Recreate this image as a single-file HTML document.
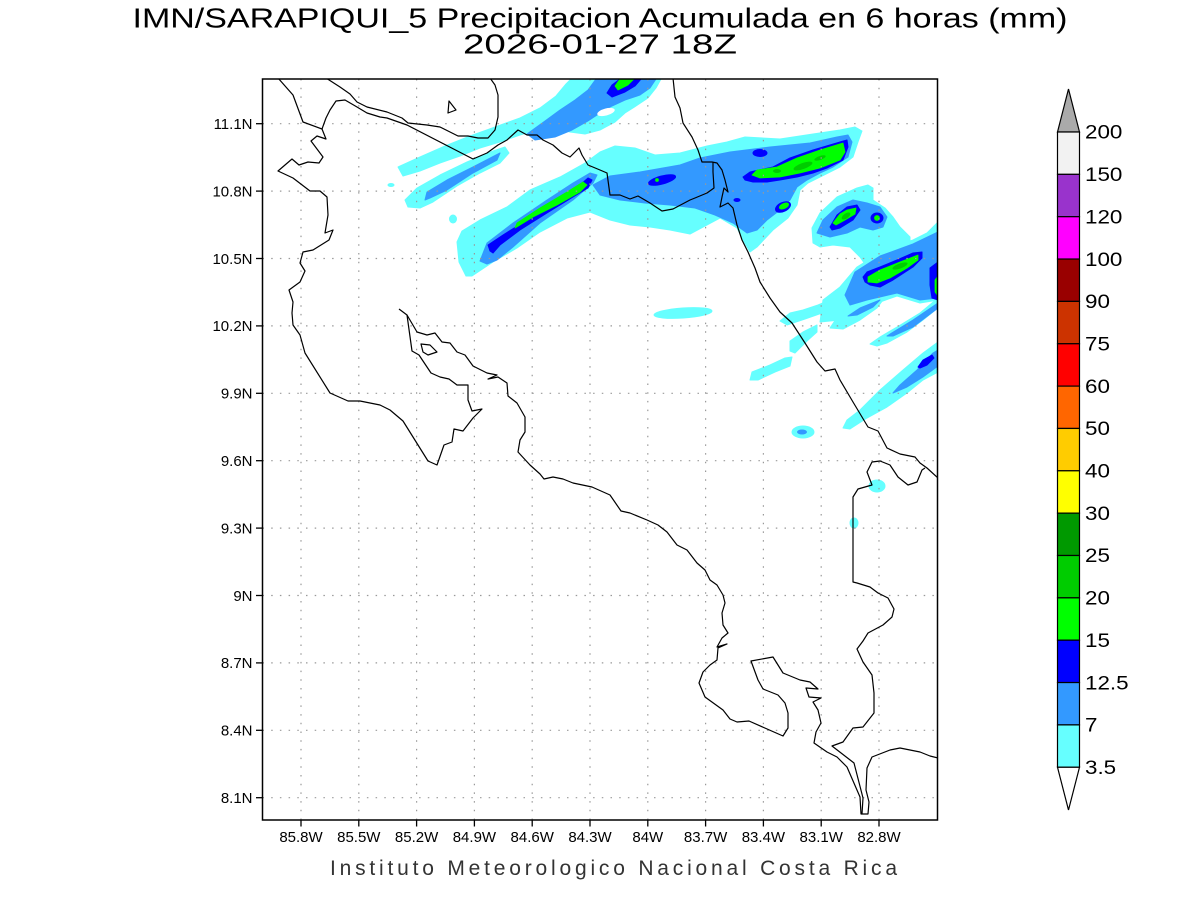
<!DOCTYPE html>
<html><head><meta charset="utf-8"><style>
html,body{margin:0;padding:0;background:#fff;}
svg{display:block;}
text{font-family:"Liberation Sans",sans-serif;}
</style></head><body>
<svg width="1200" height="900" viewBox="0 0 1200 900" xmlns="http://www.w3.org/2000/svg">
<rect width="1200" height="900" fill="#fff"/>
<defs><clipPath id="pa"><rect x="262.5" y="79" width="675" height="741"/></clipPath></defs>

<!-- Titles -->
<text x="600" y="27.5" font-size="28" text-anchor="middle" textLength="935" lengthAdjust="spacingAndGlyphs" fill="#000">IMN/SARAPIQUI_5 Precipitacion Acumulada en 6 horas (mm)</text>
<text x="600" y="53.5" font-size="28" text-anchor="middle" textLength="274" lengthAdjust="spacingAndGlyphs" fill="#000">2026-01-27 18Z</text>
<text x="613.5" y="875" font-size="21" text-anchor="middle" textLength="567" lengthAdjust="spacing" fill="#333">Instituto Meteorologico Nacional Costa Rica</text>

<g clip-path="url(#pa)" stroke-linejoin="round">
<!-- cyan -->
<g fill="#66ffff" stroke="#66ffff" stroke-width="1">
<polygon points="398,167 420,157 445,146 470,136 495,127 520,118 540,108 556,96 566,84 571,79 661,79 656,88 648,98 636,106 625,113 615,122 600,130 585,134 570,132 555,128 540,129 520,135 500,142 480,148 460,156 440,163 420,171 403,176"/>
<polygon points="405,200 417,188 440,175 467,162 493,151 505,147 509,153 500,163 480,173 457,186 433,202 420,208 408,207"/>
<polygon points="466,276 459,262 457,242 462,231 480,220 507,207 530,190 560,177 585,163 600,152 615,146 635,148 655,155 680,153 707,146 727,142 745,137 780,139 813,134 840,130 855,127 862,131 858,142 853,157 840,167 820,177 808,183 800,190 797,205 788,218 773,230 757,247 750,252 743,240 737,228 720,218 705,226 690,234 670,230 650,227 630,225 610,220 590,212 567,218 540,232 517,248 493,262 472,276"/>
<polygon points="813,243 812,228 820,213 837,197 857,188 868,185 873,188 873,200 885,208 893,217 900,227 910,237 910,245 897,247 880,257 867,267 860,257 850,247 833,245 820,247"/>
<polygon points="820,322 823,300 840,287 857,267 873,257 893,247 913,240 927,233 938,222 938,300 920,303 897,296 880,302 860,311 840,320"/>
<polygon points="780,321 790,313 803,310 818,305 830,300 838,303 825,312 805,319 787,325"/>
<polygon points="790,351 790,341 803,332 817,325 817,332 807,341 795,353"/>
<polygon points="750,380 752,372 770,365 785,358 792,357 790,366 775,372 758,380"/>
<polygon points="830,328 840,313 853,305 867,300 883,300 877,308 860,320 843,329"/>
<polygon points="870,344 880,337 897,327 920,313 938,298 938,308 923,320 907,332 887,343 877,346"/>
<polygon points="843,428 847,420 860,410 880,390 903,370 923,353 938,342 938,372 923,380 907,393 887,407 867,418 850,429"/>
<ellipse cx="803" cy="432" rx="11" ry="6"/>
<ellipse cx="877" cy="486" rx="8" ry="6"/>
<ellipse cx="854" cy="523" rx="4" ry="5"/>
<ellipse cx="683" cy="313" rx="29" ry="5" transform="rotate(-4 683 313)"/>
<ellipse cx="453" cy="219" rx="3.5" ry="4"/>
<ellipse cx="391" cy="185" rx="3" ry="1.5"/>
</g>
<!-- light blue -->
<g fill="#3399ff" stroke="#3399ff" stroke-width="1">
<polygon points="527,134 545,121 560,110 575,100 588,90 596,79 656,79 650,88 640,95 625,100 612,106 600,113 588,121 572,130 555,137 535,140"/>
<polygon points="425,200 427,192 447,180 473,167 500,153 497,160 473,173 447,190 430,198"/>
<polygon points="480,261 487,243 513,223 547,200 573,183 590,173 597,175 593,183 573,200 540,223 513,247 497,260 487,264"/>
<polygon points="593,185 610,176 640,172 680,165 700,158 730,152 770,147 810,143 837,137 848,135 852,142 848,157 833,167 820,173 807,180 797,187 790,200 780,210 767,220 757,230 747,233 733,223 715,215 695,208 670,205 645,203 620,200 600,195"/>
<polygon points="817,233 823,220 837,207 853,200 867,203 880,207 887,217 883,227 873,230 860,227 847,233 830,237"/>
<polygon points="845,295 855,272 880,256 913,244 938,232 938,298 920,300 897,293 867,300 850,305"/>
<polygon points="848,316 860,308 880,300 873,307 857,315"/>
<polygon points="887,336 913,320 938,303 938,308 913,327 893,336"/>
<polygon points="893,393 900,385 917,370 933,353 938,350 938,366 923,377 907,387"/>
<ellipse cx="802" cy="432" rx="4.5" ry="2"/>
</g>
<ellipse cx="606" cy="112" rx="9" ry="3.5" transform="rotate(-15 606 112)" fill="#fff"/>
<!-- blue -->
<g fill="#0000ff" stroke="#0000ff" stroke-width="1">
<polygon points="607,93 612,85 620,79 641,79 635,86 625,92 612,97"/>
<polygon points="490,251 488,245 503,235 527,220 557,200 580,185 588,178 592,180 588,188 573,197 547,213 520,230 500,245 493,253"/>
<polygon points="743,177 750,172 773,167 790,158 813,150 840,142 847,140 848,147 843,160 827,168 813,173 797,177 780,180 767,182 753,182 745,180"/>
<ellipse cx="760" cy="153" rx="7" ry="3.5"/>
<ellipse cx="783" cy="207" rx="8" ry="4.5" transform="rotate(-25 783 207)"/>
<polygon points="830,227 837,215 847,207 857,205 860,210 853,220 840,228 832,230"/>
<ellipse cx="877" cy="218" rx="6" ry="5"/>
<polygon points="863,277 867,272 880,267 897,260 913,253 922,252 922,258 913,267 893,280 880,287 870,285 865,282"/>
<polygon points="930,268 938,262 938,300 932,298 930,285"/>
<polygon points="918,367 923,360 932,355 934,358 927,365 920,368"/>
<ellipse cx="662" cy="180" rx="14" ry="4" transform="rotate(-15 662 180)"/>
<ellipse cx="737" cy="200" rx="3" ry="1.5"/>
</g>
<!-- green -->
<g fill="#00ff00" stroke="#00ff00" stroke-width="0.8">
<polygon points="615,86 620,79 634,79 628,85 618,90"/>
<polygon points="515,228 517,223 540,208 567,192 583,182 587,185 580,192 557,205 533,217 520,225"/>
<polygon points="752,175 757,170 777,167 797,158 820,150 843,143 845,152 840,160 820,168 800,173 780,177 760,178"/>
<ellipse cx="784" cy="206" rx="5" ry="2.5" transform="rotate(-25 784 206)"/>
<polygon points="833,223 840,214 847,210 856,208 855,214 845,220 836,225"/>
<circle cx="877" cy="218" r="2.5"/>
<polygon points="868,277 880,270 900,262 918,255 918,260 907,268 890,278 877,283 868,282"/>
<polygon points="935,280 938,276 938,296 935,292"/>
<circle cx="657" cy="180" r="1.5"/>
</g>
<!-- dark green -->
<g fill="#00cc00">
<ellipse cx="803" cy="166" rx="10" ry="3" transform="rotate(-20 803 166)"/>
<ellipse cx="777" cy="171" rx="4" ry="2"/>
<ellipse cx="820" cy="158" rx="6" ry="2" transform="rotate(-20 820 158)"/>
<ellipse cx="846" cy="216" rx="5" ry="2.5" transform="rotate(-35 846 216)"/>
<ellipse cx="900" cy="266" rx="8" ry="2.5" transform="rotate(-20 900 266)"/>
</g>

<!-- grid -->
<g stroke="#999" stroke-width="1.2" stroke-dasharray="1.5 7.2">
<line x1="301" y1="79" x2="301" y2="820"/>
<line x1="358.8" y1="79" x2="358.8" y2="820"/>
<line x1="416.6" y1="79" x2="416.6" y2="820"/>
<line x1="474.4" y1="79" x2="474.4" y2="820"/>
<line x1="532.2" y1="79" x2="532.2" y2="820"/>
<line x1="590" y1="79" x2="590" y2="820"/>
<line x1="647.8" y1="79" x2="647.8" y2="820"/>
<line x1="705.6" y1="79" x2="705.6" y2="820"/>
<line x1="763.4" y1="79" x2="763.4" y2="820"/>
<line x1="821.2" y1="79" x2="821.2" y2="820"/>
<line x1="879" y1="79" x2="879" y2="820"/>
<line x1="262.5" y1="797.7" x2="937.5" y2="797.7"/>
<line x1="262.5" y1="730.3" x2="937.5" y2="730.3"/>
<line x1="262.5" y1="662.9" x2="937.5" y2="662.9"/>
<line x1="262.5" y1="595.5" x2="937.5" y2="595.5"/>
<line x1="262.5" y1="528.1" x2="937.5" y2="528.1"/>
<line x1="262.5" y1="460.7" x2="937.5" y2="460.7"/>
<line x1="262.5" y1="393.3" x2="937.5" y2="393.3"/>
<line x1="262.5" y1="325.9" x2="937.5" y2="325.9"/>
<line x1="262.5" y1="258.5" x2="937.5" y2="258.5"/>
<line x1="262.5" y1="191.1" x2="937.5" y2="191.1"/>
<line x1="262.5" y1="123.7" x2="937.5" y2="123.7"/>
</g>

<!-- coastlines -->
<g fill="none" stroke="#000" stroke-width="1.2">
<polyline points="278,78 293,95 303,122 322,129 326,139 317,136 311,141 323,157 319,163 308,162 299,165 292,159 278,171 293,178 310,191 320,191 327,197 328,215 325,233 333,230 329,240 313,250 303,252 300,263 305,271 300,282 289,290 293,302 292,313 293,325 300,335 305,353 330,393 348,401 360,401 380,405 390,410 403,421 428,461 437,465 444,445 452,442 454,429 463,431 473,418 482,409 472,411 468,400 468,385 457,385 449,379 440,377 431,373 419,355 412,351 407,315 399,309"/>
<polyline points="407,315 417,332 427,335 435,333 442,342 450,343 457,352 465,355 473,366 487,373 497,375 488,379 498,377 507,383 508,396 517,403 525,417 525,432 520,440 518,452 530,465 540,474 544,479 553,477 563,479 573,483 592,487 610,495 621,511 630,513 647,520 658,525 667,532 677,545 687,550 697,563 705,570 710,580 717,585 723,595 725,603 722,613 723,625 728,633 722,638 717,647 727,644 718,648 717,660 710,665 703,672 699,683 705,697 723,710 730,719 737,722 749,721 783,736 788,728 788,713 785,703 778,695 763,689 758,680 751,661 773,657 783,673 800,680 810,682 818,689 806,688 809,697 821,698 813,702 818,710 821,723 816,732 814,743 827,752 837,757 847,767 860,797 861,814 868,814 869,802 866,790 867,768 872,757 890,750 900,748 920,752 930,756 938,758"/>
<polygon points="421,344 430,345 437,352 428,355 423,352"/>
<polygon points="449,101 456,110 448,113"/>
<polyline points="326,78 340,87 350,94 357,102 367,107 387,112 402,118 408,123 427,125 440,127 458,136 468,136 478,138 488,138 495,130 498,117 498,95 495,85 490,78"/>
<polyline points="322,129 326,118 330,110 336,101 345,100 357,107 367,113 380,117 387,118 407,125 473,159 487,153 498,145 507,140 518,130 527,135 537,135 543,140 553,145 562,153 570,157 579,148 582,155 588,165 600,170 607,173 610,195 620,195 630,199 638,196 650,203 662,211 673,209 690,200 695,198 707,193 714,188 713,172 713,162"/>
<polyline points="673,78 675,97 680,108 683,123 692,137 698,150 702,162 712,162 717,163 722,170 725,180 728,192 724,188 722,197 720,207 728,203 733,208 737,225 742,240 748,252 755,268 760,282 770,298 780,312 792,323 805,343 817,362 825,371 835,369 840,380 853,402 868,427 878,431 887,448 900,454 915,457 920,463 927,468 938,478"/>
<polyline points="925,468 922,470 917,482 908,485 898,477 890,465 880,461 872,462 867,472 872,485 858,489 853,497 853,582 857,583 870,587 878,593 888,598 894,609 892,617 883,625 868,633 863,641 857,649 863,662 872,675 874,693 874,713 863,727 853,728 843,742 832,746 854,763 863,798 862,814"/>
</g>
</g>

<!-- frame -->
<rect x="262.5" y="79" width="675" height="741" fill="none" stroke="#000" stroke-width="1.5"/>

<!-- ticks -->
<g stroke="#000" stroke-width="1.3">
<line x1="256" y1="797.7" x2="262.5" y2="797.7"/>
<line x1="256" y1="730.3" x2="262.5" y2="730.3"/>
<line x1="256" y1="662.9" x2="262.5" y2="662.9"/>
<line x1="256" y1="595.5" x2="262.5" y2="595.5"/>
<line x1="256" y1="528.1" x2="262.5" y2="528.1"/>
<line x1="256" y1="460.7" x2="262.5" y2="460.7"/>
<line x1="256" y1="393.3" x2="262.5" y2="393.3"/>
<line x1="256" y1="325.9" x2="262.5" y2="325.9"/>
<line x1="256" y1="258.5" x2="262.5" y2="258.5"/>
<line x1="256" y1="191.1" x2="262.5" y2="191.1"/>
<line x1="256" y1="123.7" x2="262.5" y2="123.7"/>
<line x1="301" y1="820" x2="301" y2="826.5"/>
<line x1="358.8" y1="820" x2="358.8" y2="826.5"/>
<line x1="416.6" y1="820" x2="416.6" y2="826.5"/>
<line x1="474.4" y1="820" x2="474.4" y2="826.5"/>
<line x1="532.2" y1="820" x2="532.2" y2="826.5"/>
<line x1="590" y1="820" x2="590" y2="826.5"/>
<line x1="647.8" y1="820" x2="647.8" y2="826.5"/>
<line x1="705.6" y1="820" x2="705.6" y2="826.5"/>
<line x1="763.4" y1="820" x2="763.4" y2="826.5"/>
<line x1="821.2" y1="820" x2="821.2" y2="826.5"/>
<line x1="879" y1="820" x2="879" y2="826.5"/>
</g>

<!-- tick labels -->
<g font-size="15" fill="#000" text-anchor="end">
<text x="252.5" y="803">8.1N</text>
<text x="252.5" y="735.6">8.4N</text>
<text x="252.5" y="668.2">8.7N</text>
<text x="252.5" y="600.8">9N</text>
<text x="252.5" y="533.4">9.3N</text>
<text x="252.5" y="466">9.6N</text>
<text x="252.5" y="398.6">9.9N</text>
<text x="252.5" y="331.2">10.2N</text>
<text x="252.5" y="263.8">10.5N</text>
<text x="252.5" y="196.4">10.8N</text>
<text x="252.5" y="129">11.1N</text>
</g>
<g font-size="15" fill="#000" text-anchor="middle">
<text x="301" y="842">85.8W</text>
<text x="358.8" y="842">85.5W</text>
<text x="416.6" y="842">85.2W</text>
<text x="474.4" y="842">84.9W</text>
<text x="532.2" y="842">84.6W</text>
<text x="590" y="842">84.3W</text>
<text x="647.8" y="842">84W</text>
<text x="705.6" y="842">83.7W</text>
<text x="763.4" y="842">83.4W</text>
<text x="821.2" y="842">83.1W</text>
<text x="879" y="842">82.8W</text>
</g>

<!-- colorbar -->
<g stroke="#000" stroke-width="1.2">
<polygon points="1057.5,132 1079.5,132 1068.5,89" fill="#aaaaaa"/>
<rect x="1057.5" y="132" width="22" height="42.35" fill="#f2f2f2"/>
<rect x="1057.5" y="174.35" width="22" height="42.35" fill="#9933cc"/>
<rect x="1057.5" y="216.7" width="22" height="42.35" fill="#ff00ff"/>
<rect x="1057.5" y="259.05" width="22" height="42.35" fill="#990000"/>
<rect x="1057.5" y="301.4" width="22" height="42.35" fill="#cc3300"/>
<rect x="1057.5" y="343.75" width="22" height="42.35" fill="#ff0000"/>
<rect x="1057.5" y="386.1" width="22" height="42.35" fill="#ff6600"/>
<rect x="1057.5" y="428.45" width="22" height="42.35" fill="#ffcc00"/>
<rect x="1057.5" y="470.8" width="22" height="42.35" fill="#ffff00"/>
<rect x="1057.5" y="513.15" width="22" height="42.35" fill="#009900"/>
<rect x="1057.5" y="555.5" width="22" height="42.35" fill="#00cc00"/>
<rect x="1057.5" y="597.85" width="22" height="42.35" fill="#00ff00"/>
<rect x="1057.5" y="640.2" width="22" height="42.35" fill="#0000ff"/>
<rect x="1057.5" y="682.55" width="22" height="42.35" fill="#3399ff"/>
<rect x="1057.5" y="724.9" width="22" height="42.35" fill="#66ffff"/>
<polygon points="1057.5,767.25 1079.5,767.25 1068.5,810" fill="#ffffff"/>
</g>
<g font-size="19" fill="#000">
<text transform="translate(1085 138.7) scale(1.18 1)">200</text>
<text transform="translate(1085 181.05) scale(1.18 1)">150</text>
<text transform="translate(1085 223.4) scale(1.18 1)">120</text>
<text transform="translate(1085 265.75) scale(1.18 1)">100</text>
<text transform="translate(1085 308.1) scale(1.18 1)">90</text>
<text transform="translate(1085 350.45) scale(1.18 1)">75</text>
<text transform="translate(1085 392.8) scale(1.18 1)">60</text>
<text transform="translate(1085 435.15) scale(1.18 1)">50</text>
<text transform="translate(1085 477.5) scale(1.18 1)">40</text>
<text transform="translate(1085 519.85) scale(1.18 1)">30</text>
<text transform="translate(1085 562.2) scale(1.18 1)">25</text>
<text transform="translate(1085 604.55) scale(1.18 1)">20</text>
<text transform="translate(1085 646.9) scale(1.18 1)">15</text>
<text transform="translate(1085 689.25) scale(1.18 1)">12.5</text>
<text transform="translate(1085 731.6) scale(1.18 1)">7</text>
<text transform="translate(1085 773.95) scale(1.18 1)">3.5</text>
</g>
</svg>
</body></html>
